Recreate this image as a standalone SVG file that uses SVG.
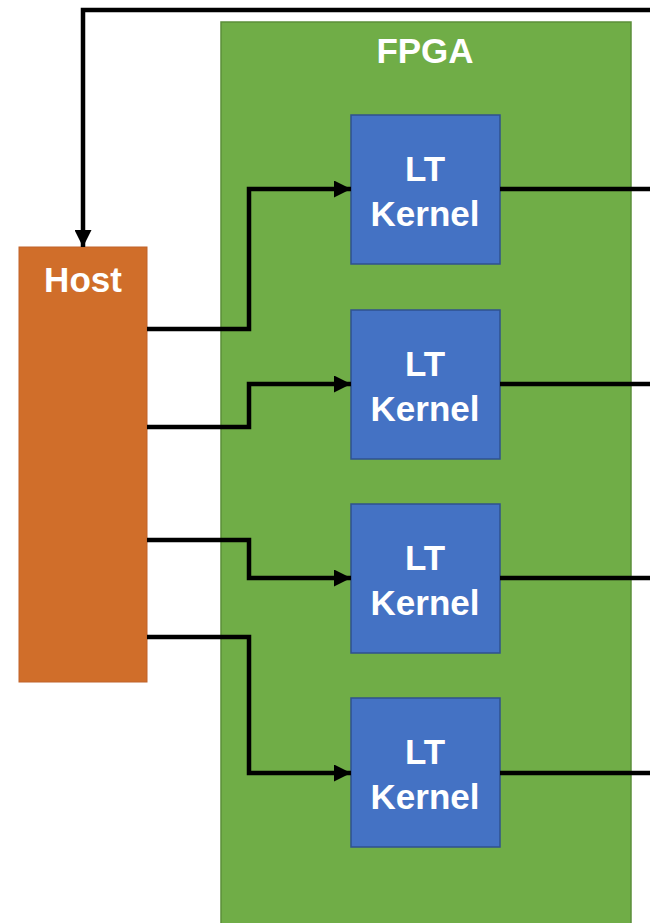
<svg xmlns="http://www.w3.org/2000/svg" width="650" height="923" viewBox="0 0 650 923">
<style>
.fpga{fill:#70AD47;stroke:#5B8F3A;stroke-width:1.5}
.host{fill:#D06E2A;stroke:#C0632A;stroke-width:1}
.kern{fill:#4472C4;stroke:#2F528F;stroke-width:1.5}
.lbl{font-family:"Liberation Sans",Arial,sans-serif;font-weight:bold;font-size:35px;fill:#FFFFFF;text-anchor:middle}
.wire{fill:none;stroke:#000;stroke-width:4.5;stroke-linejoin:miter}
</style>
<defs>
<marker id="ah" markerUnits="userSpaceOnUse" markerWidth="18" markerHeight="17" refX="17" refY="8.5" orient="auto">
<path d="M0,0 L17,8.5 L0,17 Z" fill="#000"/>
</marker>
</defs>
<g id="fpga">
<rect class="fpga" x="221" y="22" width="410" height="910"/>
<text class="lbl" x="425" y="63">FPGA</text>
</g>
<g id="host">
<rect class="host" x="19" y="247" width="128" height="435"/>
<text class="lbl" x="83" y="292">Host</text>
</g>
<g id="kernel1">
<rect class="kern" x="351" y="115" width="149" height="149"/>
<text class="lbl" x="425" y="181">LT</text>
<text class="lbl" x="425" y="226">Kernel</text>
</g>
<g id="kernel2">
<rect class="kern" x="351" y="310" width="149" height="149"/>
<text class="lbl" x="425" y="376">LT</text>
<text class="lbl" x="425" y="421">Kernel</text>
</g>
<g id="kernel3">
<rect class="kern" x="351" y="504" width="149" height="149"/>
<text class="lbl" x="425" y="570">LT</text>
<text class="lbl" x="425" y="615">Kernel</text>
</g>
<g id="kernel4">
<rect class="kern" x="351" y="698" width="149" height="149"/>
<text class="lbl" x="425" y="764">LT</text>
<text class="lbl" x="425" y="809">Kernel</text>
</g>
<g id="connectors">
<path class="wire" d="M650,10 L83,10 L83,247" marker-end="url(#ah)"/>
<path class="wire" d="M147,329 L249,329 L249,189 L351,189" marker-end="url(#ah)"/>
<path class="wire" d="M147,427 L249,427 L249,384 L351,384" marker-end="url(#ah)"/>
<path class="wire" d="M147,540 L249,540 L249,578 L351,578" marker-end="url(#ah)"/>
<path class="wire" d="M147,637 L249,637 L249,773 L351,773" marker-end="url(#ah)"/>
<path class="wire" d="M500,189 L650,189"/>
<path class="wire" d="M500,384 L650,384"/>
<path class="wire" d="M500,578 L650,578"/>
<path class="wire" d="M500,773 L650,773"/>
</g>
</svg>
